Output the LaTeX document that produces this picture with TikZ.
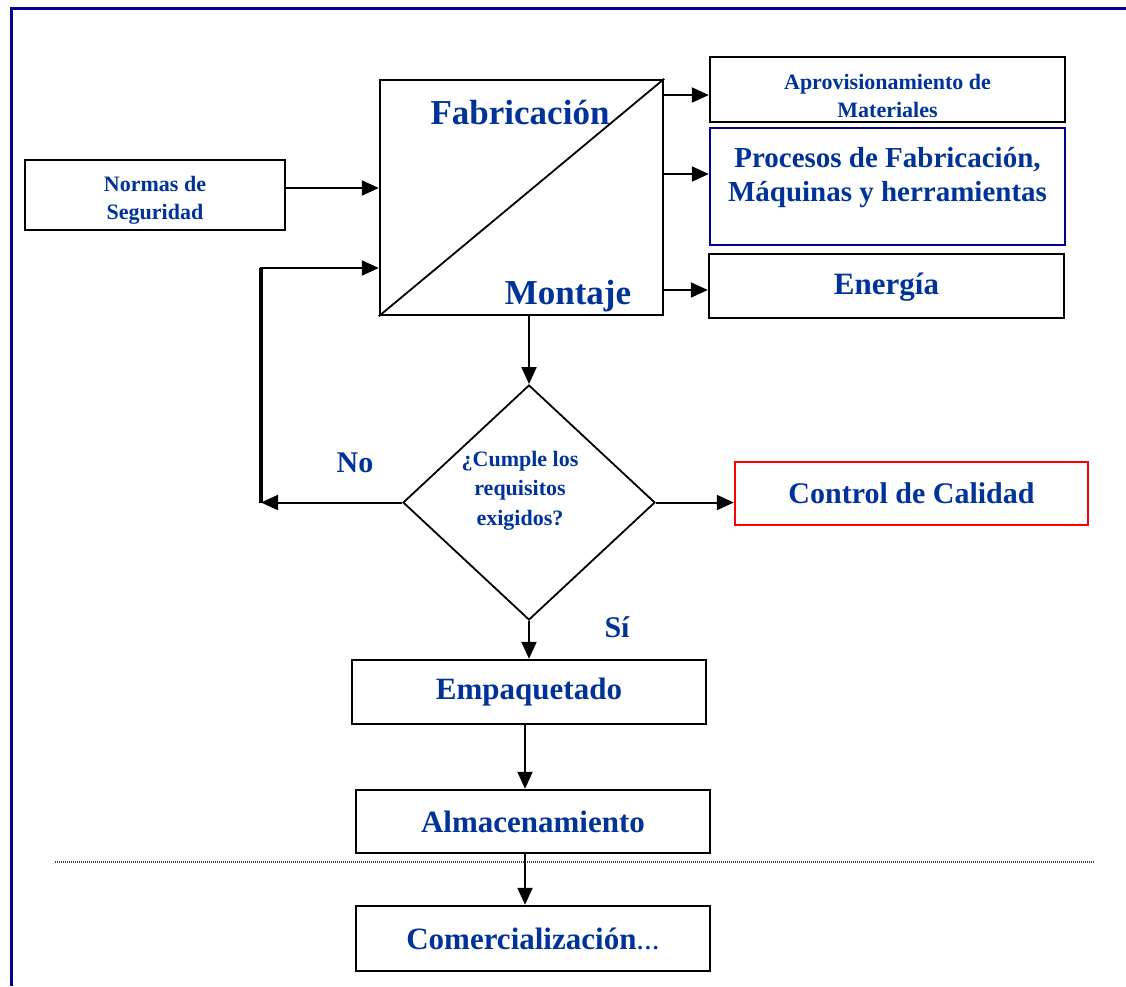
\documentclass[tikz,border=0pt]{standalone}
\usepackage{fontspec}
\setmainfont{Liberation Serif}
\usetikzlibrary{arrows.meta,shapes.geometric}
\definecolor{txtblue}{RGB}{0,51,153}
\definecolor{navy}{RGB}{0,0,145}
\definecolor{ctrlred}{RGB}{255,0,0}
\newcommand\setfs[2]{\fontsize{#1}{#2}\selectfont\bfseries}

\begin{document}
\begin{tikzpicture}[x=1pt,y=-1pt,
  box/.style={draw=black, line width=2.4pt, inner sep=0pt, text=txtblue, align=center},
  lbl/.style={inner sep=0pt, text=txtblue, align=center},
  arr/.style={-{Triangle[length=17pt,width=15pt]}, line width=2pt},
  frameline/.style={draw=navy, line width=3.2pt}
]
\useasboundingbox (0,0) rectangle (1126,986);

% page frame
\draw[frameline] (11.5,986) -- (11.5,8.5) -- (1126,8.5);

% inputs and the manufacturing block
\node[box, minimum width=260pt, minimum height=70pt] (normas) at (155,195) {};
\node[lbl, font=\setfs{22}{28}] (normastxt) at (155,200) {Normas de\\Seguridad};

\node[box, minimum width=283pt, minimum height=235pt] (main) at (521.5,197.5) {};
\draw[line width=1.8pt] (main.south west) -- (main.north east);
\node[lbl, font=\setfs{35}{40}] (fab) at (520,113) {Fabricación};
\node[lbl, font=\setfs{35}{40}] (mon) at (568,296) {Montaje};

% resources on the right
\node[box, minimum width=355pt, minimum height=65pt] (aprov) at (887.5,89.5) {};
\node[lbl, font=\setfs{22}{28}] (aprovtxt) at (887.5,96) {Aprovisionamiento de\\Materiales};

\node[box, draw=navy, minimum width=355pt, minimum height=117pt] (procesos) at (887.5,186.5) {};
\node[lbl, font=\setfs{29}{34}] (procesostxt) at (887.5,178) {Procesos de Fabricación,\\Máquinas y herramientas};

\node[box, minimum width=355pt, minimum height=64pt] (energia) at (886.5,286) {};
\node[lbl, font=\setfs{31}{36}] (energiatxt) at (886.5,287) {Energía};

% decision
\node[draw, diamond, line width=1.8pt, minimum width=252pt, minimum height=235pt, inner sep=0pt] (dia) at (529,502.5) {};
\node[lbl, font=\setfs{22}{29.5}] (diatxt) at (520,490.5) {¿Cumple los\\requisitos\\exigidos?};

\node[box, draw=ctrlred, minimum width=353pt, minimum height=63pt, font=\setfs{30}{36}] (ctrl) at (911.5,493.5) {Control de Calidad};

% downstream chain
\node[box, minimum width=354pt, minimum height=64pt, font=\setfs{31}{36}] (empaq) at (529,692) {Empaquetado};
\node[box, minimum width=354pt, minimum height=63pt, font=\setfs{31}{36}] (almac) at (533,821.5) {Almacenamiento};
\node[box, minimum width=354pt, minimum height=65pt, font=\setfs{31}{36}] (comerc) at (533,938.5) {Comercialización\textmd{...}};

% branch labels
\node[lbl, font=\setfs{30}{34}] (no) at (355,463) {No};
\node[lbl, font=\setfs{30}{34}] (si) at (617,627) {Sí};

% separator
\draw[line width=1.2pt, black!75, dash pattern=on 1pt off 1pt] (55,862) -- (1095,862);

% connectors
\draw[arr] (normas.east |- 0,188) -- (main.west |- 0,188);
\draw[arr] (main.east |- 0,95) -- (aprov.west |- 0,95);
\draw[arr] (main.east |- 0,174) -- (procesos.west |- 0,174);
\draw[arr] (main.east |- 0,290) -- (energia.west |- 0,290);
\draw[arr] (main.south -| dia.north) -- (dia.north);

\coordinate (loopbot) at (261,502.5);
\coordinate (looptop) at (261,268);
\draw[arr] (dia.west) -- (loopbot);
\draw[arr] (loopbot) -- (looptop) -- (main.west |- looptop);
\draw[line width=3.2pt] (loopbot) -- (looptop);

\draw[arr] (dia.east) -- (dia.east -| ctrl.west);
\draw[arr] (dia.south) -- (empaq.north -| dia.south);
\draw[arr] (empaq.south -| 525,0) -- (almac.north -| 525,0);
\draw[arr] (almac.south -| 525,0) -- (comerc.north -| 525,0);
\end{tikzpicture}
\end{document}
